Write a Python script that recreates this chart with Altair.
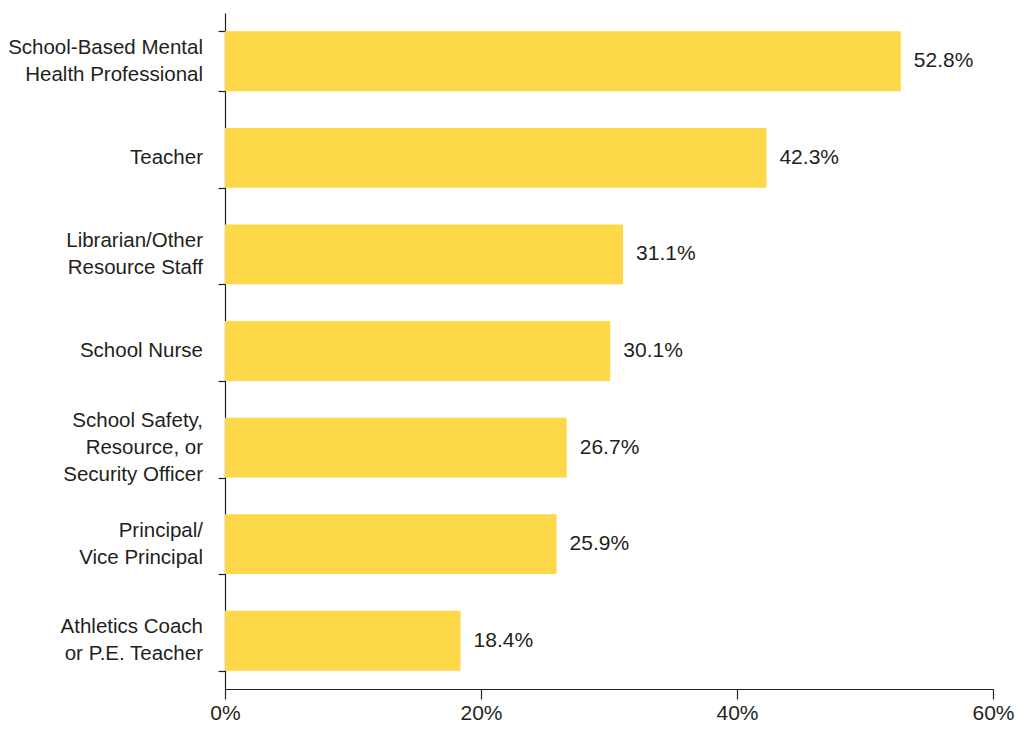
import altair as alt
import pandas as pd

categories = [
    "School-Based Mental|Health Professional",
    "Teacher",
    "Librarian/Other|Resource Staff",
    "School Nurse",
    "School Safety,|Resource, or|Security Officer",
    "Principal/|Vice Principal",
    "Athletics Coach|or P.E. Teacher",
]
values = [0.528, 0.423, 0.311, 0.301, 0.267, 0.259, 0.184]
value_labels = ["52.8%", "42.3%", "31.1%", "30.1%", "26.7%", "25.9%", "18.4%"]
x_ticks = [0, 0.2, 0.4, 0.6]

df = pd.DataFrame({"role": categories, "share": values, "label": value_labels})
df["nlines"] = [c.count("|") + 1 for c in categories]

FONT = "Liberation Sans"
INK = "#231F20"
YELLOW = "#FDD94A"
LINE_H = 27

y_scale = alt.Scale(paddingInner=0.38, paddingOuter=0.19)

y_enc = alt.Y(
    "role:N",
    sort=categories,
    title=None,
    scale=y_scale,
    axis=alt.Axis(
        tickBand="extent",
        labels=False,
        tickSize=7,
        tickColor=INK,
        domainColor=INK,
        tickWidth=1.2,
        domainWidth=1.2,
    ),
)

x_enc = alt.X(
    "share:Q",
    title=None,
    scale=alt.Scale(domain=[0, 0.6], nice=False),
    axis=alt.Axis(
        values=x_ticks,
        format=".0%",
        grid=False,
        labelFont=FONT,
        labelFontSize=21,
        labelColor=INK,
        labelPadding=3,
        tickSize=10,
        tickColor=INK,
        domainColor=INK,
        tickWidth=1.2,
        domainWidth=1.2,
        labelFlush=False,
    ),
)

bars = alt.Chart(df).mark_bar(color=YELLOW).encode(x=x_enc, y=y_enc)

texts = alt.Chart(df).mark_text(
    align="left", baseline="middle", dx=13, font=FONT, fontSize=21, color=INK
).encode(
    x=alt.X("share:Q"),
    y=alt.Y("role:N", sort=categories),
    text="label:N",
)

label_layers = []
for n in sorted(set(df["nlines"])):
    label_layers.append(
        alt.Chart(df)
        .transform_filter(alt.datum.nlines == n)
        .mark_text(
            align="right",
            baseline="middle",
            lineBreak="|",
            lineHeight=LINE_H,
            dy=-(n - 1) * LINE_H / 2,
            font=FONT,
            fontSize=20.5,
            color=INK,
        )
        .encode(
            x=alt.value(-22),
            y=alt.Y("role:N", sort=categories),
            text="role:N",
        )
    )

chart = (
    alt.layer(bars, texts, *label_layers)
    .properties(
        width=768,
        height=676,
        background="white",
        autosize=alt.AutoSizeParams(type="none"),
        padding={"left": 217, "top": 5, "right": 23, "bottom": 36},
    )
    .configure_view(strokeWidth=0)
)

chart.save("out.html", embed_options={"renderer": "svg", "actions": False})
